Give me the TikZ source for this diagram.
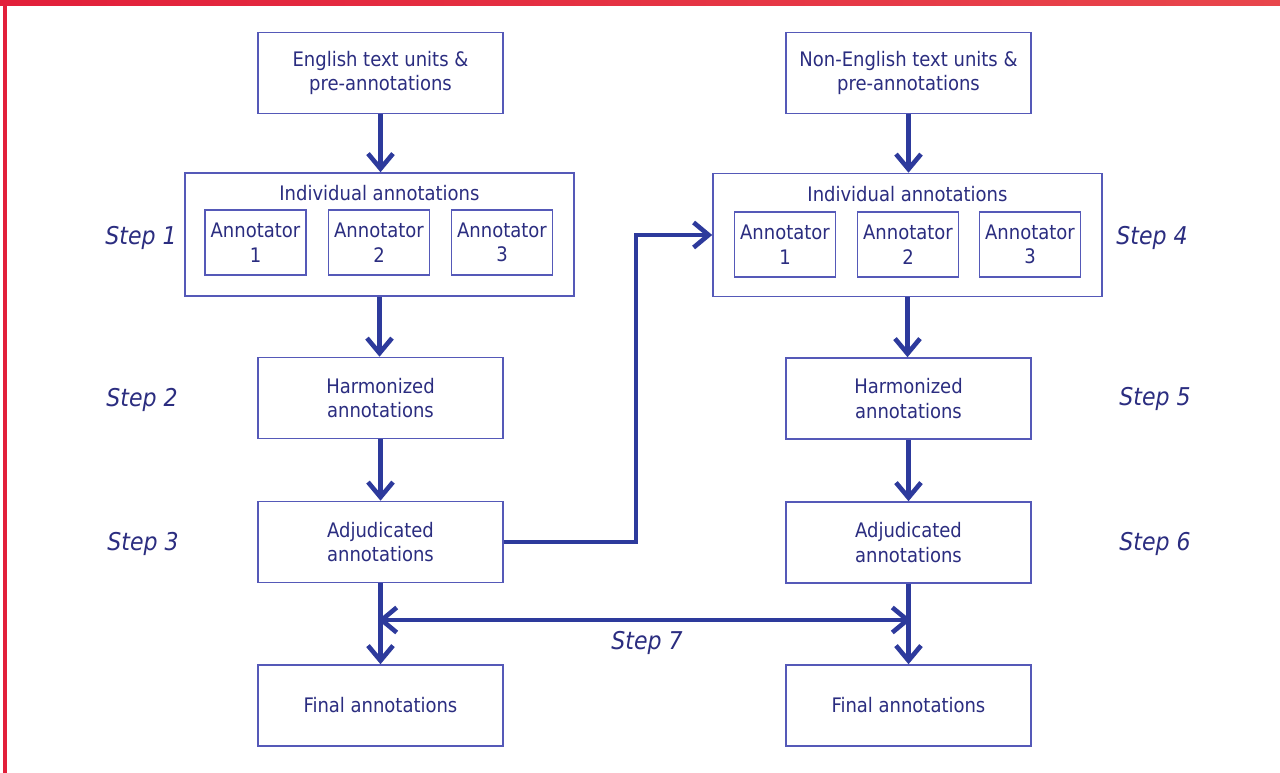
\documentclass[tikz,border=0pt]{standalone}
\usepackage{fontspec}
\setmainfont{DejaVu Sans Condensed}
\usetikzlibrary{arrows.meta,calc}
\definecolor{txt}{HTML}{2B2D80}
\definecolor{bord}{HTML}{5559B8}
\definecolor{arr}{HTML}{2D3A9C}
\definecolor{redA}{HTML}{E21F3A}
\definecolor{redB}{HTML}{E8464C}
\begin{document}
\begin{tikzpicture}[x=1pt,y=-1pt,
  box/.style={draw=bord,line width=1.6pt,fill=white,text=txt,align=center,
    font=\fontsize{20}{24.5}\selectfont,inner sep=0pt},
  mainbox/.style={box,minimum width=245pt,minimum height=81pt},
  bigbox/.style={box,minimum width=389pt,minimum height=123pt},
  annbox/.style={box,minimum width=101pt,minimum height=65pt},
  ttl/.style={text=txt,font=\fontsize{20}{24}\selectfont,inner sep=0pt},
  steplbl/.style={text=txt,font=\fontsize{24.5}{28}\selectfont\itshape,inner sep=0pt},
  flow/.style={draw=arr,line width=4.8pt,-{Straight Barb[length=15pt,width=25pt,line width=4.6pt]}},
  flow2/.style={draw=arr,line width=4.8pt,{Straight Barb[length=15pt,width=25pt,line width=4.6pt]}-{Straight Barb[length=15pt,width=25pt,line width=4.6pt]}}
]
\useasboundingbox (0,0) rectangle (1280,773);
\fill[white] (0,0) rectangle (1280,773);
\shade[left color=redA,right color=redB] (0,0) rectangle (1280,6);
\fill[redA] (3,0) rectangle (6.5,773);

% left column
\node[mainbox] (eng) at (380.5,73) {English text units \&\\pre-annotations};
\node[bigbox] (indL) at (379.5,234.5) {};
\node[ttl] (indLt) at (379.5,193) {Individual annotations};
\node[annbox] (aL1) at (255.5,242.5) {Annotator\\1};
\node[annbox] (aL2) at (379,242.5) {Annotator\\2};
\node[annbox] (aL3) at (502,242.5) {Annotator\\3};
\node[mainbox] (harmL) at (380.5,398) {Harmonized\\annotations};
\node[mainbox] (adjL) at (380.5,542) {Adjudicated\\annotations};
\node[mainbox] (finL) at (380.5,705.5) {Final annotations};

% right column
\node[mainbox] (neng) at (908.5,73) {Non-English text units \&\\pre-annotations};
\node[bigbox] (indR) at (907.5,235) {};
\node[ttl] (indRt) at (907.5,194) {Individual annotations};
\node[annbox] (aR1) at (785,244.5) {Annotator\\1};
\node[annbox] (aR2) at (908,244.5) {Annotator\\2};
\node[annbox] (aR3) at (1030,244.5) {Annotator\\3};
\node[mainbox] (harmR) at (908.5,398.5) {Harmonized\\annotations};
\node[mainbox] (adjR) at (908.5,542.5) {Adjudicated\\annotations};
\node[mainbox] (finR) at (908.5,705.5) {Final annotations};

% step labels
\node[steplbl] (s1) at (141,238) {Step 1};
\node[steplbl] (s2) at (142,400) {Step 2};
\node[steplbl] (s3) at (143,544) {Step 3};
\node[steplbl] (s4) at (1152,238) {Step 4};
\node[steplbl] (s5) at (1155,399) {Step 5};
\node[steplbl] (s6) at (1155,544) {Step 6};
\node[steplbl] (s7) at (647,643) {Step 7};

% connectors
\draw[flow] (eng.south) -- (eng.south |- indL.north);
\draw[flow] (indL.south) -- (indL.south |- harmL.north);
\draw[flow] (harmL.south) -- (adjL.north);
\draw[flow] (adjL.south) -- (finL.north);
\draw[flow] (neng.south) -- (neng.south |- indR.north);
\draw[flow] (indR.south) -- (indR.south |- harmR.north);
\draw[flow] (harmR.south) -- (adjR.north);
\draw[flow] (adjR.south) -- (finR.north);
\coordinate (bend1) at (636,542);
\coordinate (bend2) at (636,235);
\draw[flow,line join=miter] (adjL.east) -- (bend1) -- (bend2) -- (indR.west);
\coordinate (j7L) at (380.5,620);
\coordinate (j7R) at (908.5,620);
\draw[flow2,shorten <=-2.4pt,shorten >=-2.4pt] (j7L) -- (j7R);
\end{tikzpicture}
\end{document}
